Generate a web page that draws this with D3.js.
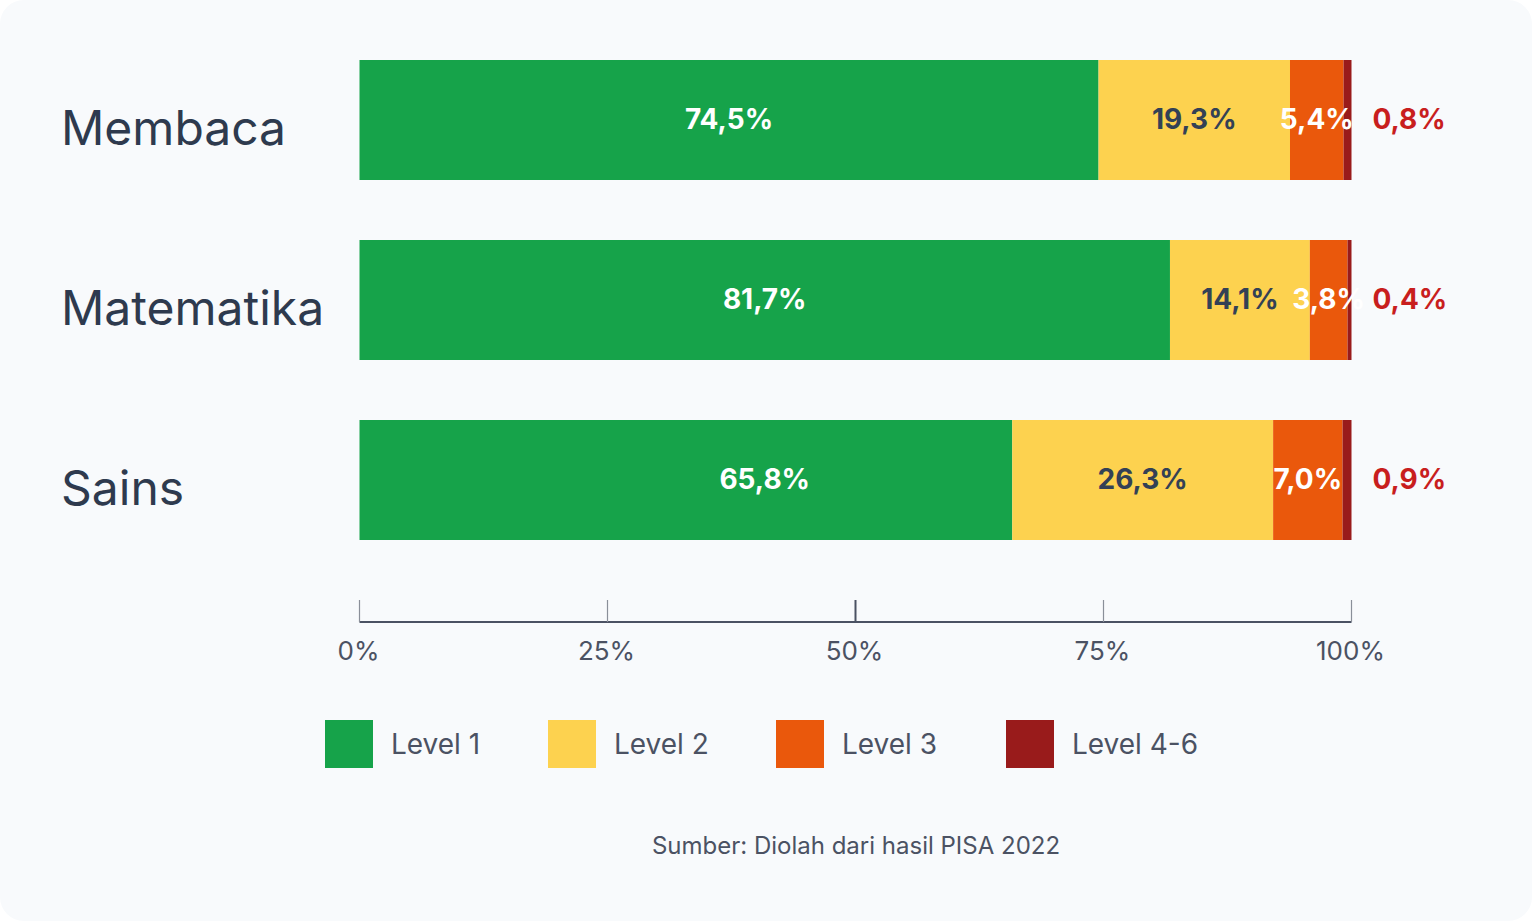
<!DOCTYPE html>
<html>
<head>
<meta charset="utf-8">
<script src="https://cdn.jsdelivr.net/npm/d3@7"></script>
<style>
  html, body { margin: 0; padding: 0; background: #ffffff; }
  svg { display: block; font-family: Inter, "Noto Sans", sans-serif; }
</style>
</head>
<body>
<svg id="chart" width="1532" height="921"></svg>
<script>
// data
const subjects = ["Membaca", "Matematika", "Sains"];
const levels = ["Level 1", "Level 2", "Level 3", "Level 4-6"];
const level1 = [74.5, 81.7, 65.8];
const level2 = [19.3, 14.1, 26.3];
const level3 = [5.4, 3.8, 7.0];
const level46 = [0.8, 0.4, 0.9];
// the Level 1 label for Sains sits off-centre in the original (value units)
const level1LabelAt = [37.25, 40.85, 40.85];
const ticks = [0, 25, 50, 75, 100];
const source = "Sumber: Diolah dari hasil PISA 2022";

const colors = ["#16a34a", "#fdd24f", "#ea580c", "#991b1b"];
const labelColors = ["#ffffff", "#334155", "#ffffff", "#c81e1e"];

const svg = d3.select("#chart");
const width = 1532, height = 921;

svg.append("rect")
  .attr("x", 0).attr("y", 0)
  .attr("width", width).attr("height", height)
  .attr("rx", 24).attr("ry", 24)
  .style("fill", "#f8fafc");

const x = d3.scaleLinear().domain([0, 100]).range([359.5, 1351.5]);
const y = d3.scaleBand().domain(subjects).range([30, 570]).paddingInner(1 / 3).paddingOuter(1 / 6);

const fmt = (v) => d3.format(".1f")(v).replace(".", ",") + "%";

const rows = subjects.map((s, i) => {
  const vals = [level1[i], level2[i], level3[i], level46[i]];
  let acc = 0;
  return {
    subject: s,
    index: i,
    segs: vals.map((v, k) => {
      const seg = { key: k, x0: acc, x1: acc + v, value: v };
      acc += v;
      return seg;
    }),
  };
});

// category labels
svg.append("g")
  .selectAll("text")
  .data(subjects)
  .join("text")
  .attr("x", 61)
  .attr("y", (d) => y(d) + y.bandwidth() / 2 + 8)
  .attr("dy", "0.36em")
  .style("font-size", "48px")
  .style("fill", "#2e3a4e")
  .text((d) => d);

// bars
const rowG = svg.append("g")
  .selectAll("g")
  .data(rows)
  .join("g")
  .attr("transform", (d) => "translate(0," + y(d.subject) + ")");

rowG.selectAll("rect")
  .data((d) => d.segs)
  .join("rect")
  .attr("x", (d) => x(d.x0))
  .attr("width", (d) => x(d.x1) - x(d.x0))
  .attr("y", 0)
  .attr("height", y.bandwidth())
  .style("fill", (d) => colors[d.key]);

// value labels
rowG.each(function (row) {
  const g = d3.select(this);
  row.segs.forEach((seg) => {
    let lx, anchor = "middle";
    if (seg.key === 0) lx = x(level1LabelAt[row.index]);
    else if (seg.key === 3) { lx = x(100) + 21; anchor = "start"; }
    else lx = (x(seg.x0) + x(seg.x1)) / 2;
    g.append("text")
      .attr("x", lx)
      .attr("y", y.bandwidth() / 2 - 1)
      .attr("dy", "0.36em")
      .attr("text-anchor", anchor)
      .style("font-size", "28px")
      .style("font-weight", 700)
      .style("fill", labelColors[seg.key])
      .text(fmt(seg.value));
  });
});

// axis
const axisY = 622;
const axisG = svg.append("g").attr("transform", "translate(0," + axisY + ")");
axisG.append("line")
  .attr("x1", x(0)).attr("x2", x(100))
  .attr("y1", 0).attr("y2", 0)
  .style("stroke", "#4b5263")
  .style("stroke-width", 2);
axisG.selectAll("line.tick")
  .data(ticks)
  .join("line")
  .attr("class", "tick")
  .attr("x1", (d) => x(d)).attr("x2", (d) => x(d))
  .attr("y1", -22).attr("y2", 0)
  .style("stroke", (d) => (d === 50 ? "#4b5263" : "#8a8f99"))
  .style("stroke-width", (d) => (d === 50 ? 2 : 1.2));
axisG.selectAll("text")
  .data(ticks)
  .join("text")
  .attr("x", (d) => x(d) - 1)
  .attr("y", 29)
  .attr("dy", "0.36em")
  .attr("text-anchor", "middle")
  .style("font-size", "26px")
  .style("fill", "#4b5263")
  .text((d) => d + "%");

// legend
const legendX = [325, 548, 776, 1006];
const legend = svg.append("g")
  .selectAll("g")
  .data(levels)
  .join("g")
  .attr("transform", (d, i) => "translate(" + legendX[i] + ",720)");
legend.append("rect")
  .attr("width", 48).attr("height", 48)
  .style("fill", (d, i) => colors[i]);
legend.append("text")
  .attr("x", 66)
  .attr("y", 24)
  .attr("dy", "0.36em")
  .style("font-size", "28px")
  .style("fill", "#4b5263")
  .text((d) => d);

// source
svg.append("text")
  .attr("x", 856)
  .attr("y", 845)
  .attr("dy", "0.36em")
  .attr("text-anchor", "middle")
  .style("font-size", "24px")
  .style("fill", "#4b5263")
  .text(source);
</script>
</body>
</html>
